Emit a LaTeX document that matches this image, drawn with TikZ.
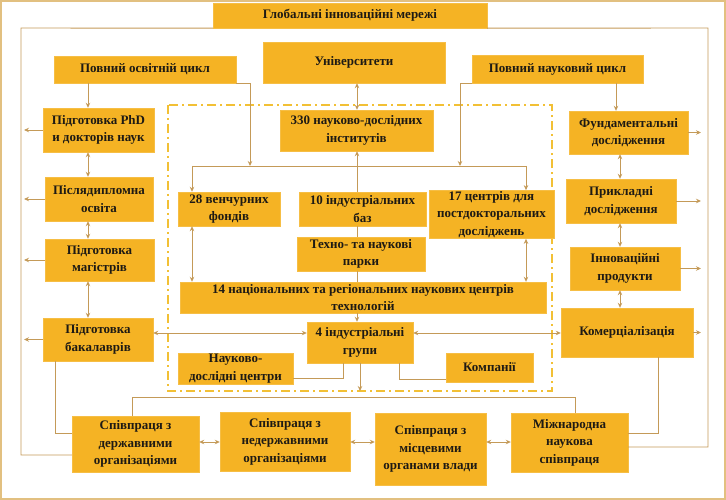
\documentclass[tikz,border=0pt]{standalone}
\usepackage{fontspec}
\setmainfont{Liberation Serif}
\usetikzlibrary{arrows.meta}
\definecolor{boxfill}{HTML}{F5B324}
\definecolor{lncol}{HTML}{C49A58}
\definecolor{dashcol}{HTML}{F2C035}
\definecolor{outercol}{HTML}{E2C080}
\definecolor{txt}{HTML}{1E1A14}
\newcommand\mybox[6]{\node[box, minimum width={(#4-#2)*1pt}, minimum height={(#5-#3)*1pt}] (#1) at ({(#2+#4)/2},{(#3+#5)/2}) {#6};}
\begin{document}
\begin{tikzpicture}[x=1pt,y=-1pt,
  box/.style={fill=boxfill, draw=boxfill!85!white, line width=0.4pt, inner sep=1pt, align=center,
    font=\fontsize{13}{17.5}\selectfont\bfseries, text=txt},
  ln/.style={draw=lncol, line width=0.9pt},
  arr/.style={ln, -{Stealth[length=5pt,width=4.5pt]}},
  dbl/.style={ln, {Stealth[length=5pt,width=4.5pt]}-{Stealth[length=5pt,width=4.5pt]}},
  dashframe/.style={draw=dashcol, line width=2pt, dash pattern=on 9pt off 4pt on 2pt off 4pt}]
\useasboundingbox (0,0) rectangle (726,500);
\draw[draw=outercol, line width=2.2pt] (1,1) rectangle (725,499);
% dashed frame
\draw[dashframe] (168,105) rectangle (552,391);
\coordinate (dashB) at (0,391);
% boxes
\mybox{glob}{213}{3}{487}{28}{Глобальні інноваційні мережі}
\mybox{edu}{54}{56}{236}{83}{Повний освітній цикл}
\mybox{univ}{263}{42}{445}{83}{Університети}
\mybox{sci}{472}{55}{643}{83}{Повний науковий цикл}
\mybox{phd}{43}{108}{154}{152}{Підготовка PhD\\и докторів наук}
\mybox{inst}{280}{110}{433}{151}{330 науково-дослідних\\інститутів}
\mybox{fund}{569}{111}{688}{154}{Фундаментальні\\дослідження}
\mybox{pg}{45}{177}{153}{221}{Післядипломна\\освіта}
\mybox{vent}{178}{192}{280}{226}{28 венчурних\\фондів}
\mybox{bases}{299}{192}{426}{226}{10 індустріальних\\баз}
\mybox{post}{429}{192}{554}{237}{17 центрів для\\постдокторальних\\досліджень}
\mybox{appl}{566}{179}{676}{223}{Прикладні\\дослідження}
\mybox{techno}{297}{237}{425}{271}{Техно- та наукові\\парки}
\mybox{mag}{45}{239}{154}{281}{Підготовка\\магістрів}
\mybox{innov}{570}{247}{680}{290}{Інноваційні\\продукти}
\mybox{nat}{180}{282}{546}{313}{14 національних та регіональних наукових центрів\\технологій}
\mybox{bach}{43}{318}{153}{361}{Підготовка\\бакалаврів}
\mybox{grp}{307}{322}{413}{363}{4 індустріальні\\групи}
\mybox{comm}{561}{308}{693}{357}{Комерціалізація}
\mybox{rdc}{178}{354}{293}{383}{Науково-\\дослідні центри}
\mybox{comp}{446}{353}{533}{382}{Компанії}
\mybox{coop1}{72}{416}{199}{472}{Співпраця з\\державними\\організаціями}
\mybox{coop2}{220}{412}{350}{471}{Співпраця з\\недержавними\\організаціями}
\mybox{coop3}{375}{413}{486}{485}{Співпраця з\\місцевими\\органами влади}
\mybox{intl}{511}{413}{628}{472}{Міжнародна\\наукова\\співпраця}
% outer network frame
\coordinate (fTL) at (21,28);
\coordinate (fBL) at (21,455);
\coordinate (fTR) at (708,28);
\coordinate (fBR) at (708,447);
\draw[ln] (glob.south west) -- (fTL) -- (fBL) -- (fBL -| coop1.west);
\draw[ln] (glob.south east) -- (fTR) -- (fBR) -- (fBR -| intl.east);
% side arrows
\coordinate (lxa) at (24,0);
\coordinate (rxa) at (701,0);
\foreach \n in {phd,pg,mag,bach} \draw[arr] (\n.west) -- (\n.west -| lxa);
\foreach \n in {fund,appl,innov,comm} \draw[arr] (\n.east) -- (\n.east -| rxa);
% left chain
\coordinate (lc) at (88,0);
\draw[arr] (lc |- edu.south) -- (lc |- phd.north);
\draw[dbl] (lc |- phd.south) -- (lc |- pg.north);
\draw[dbl] (lc |- pg.south) -- (lc |- mag.north);
\draw[dbl] (lc |- mag.south) -- (lc |- bach.north);
% right chain
\coordinate (rc0) at (616,0);
\coordinate (rc) at (620,0);
\draw[arr] (rc0 |- sci.south) -- (rc0 |- fund.north);
\draw[dbl] (rc |- fund.south) -- (rc |- appl.north);
\draw[dbl] (rc |- appl.south) -- (rc |- innov.north);
\draw[dbl] (rc |- innov.south) -- (rc |- comm.north);
% top feeds into the bus
\coordinate (h1) at (250,166);
\coordinate (h2) at (460,166);
\draw[arr] (edu.south east) -| (h1);
\draw[arr] (sci.south west) -| (h2);
\coordinate (busL) at (192,166);
\coordinate (busR) at (526,166);
\draw[ln] (busL) -- (busR);
\draw[arr] (busL) -- (busL |- vent.north);
\draw[arr] (busR) -- (busR |- post.north);
% central vertical chain
\coordinate (vx) at (357,0);
\draw[dbl] (vx |- univ.south) -- (vx |- inst.north);
\draw[arr] (vx |- bases.north) -- (vx |- inst.south);
\draw[ln] (vx |- bases.south) -- (vx |- techno.north);
\draw[ln] (vx |- techno.south) -- (vx |- nat.north);
\draw[arr] (vx |- nat.south) -- (vx |- grp.north);
\draw[dbl] (busL |- vent.south) -- (busL |- nat.north);
\draw[dbl] (busR |- post.south) -- (busR |- nat.north);
% horizontals through groups
\coordinate (ya) at (0,333);
\draw[dbl] (bach.east |- ya) -- (grp.west |- ya);
\draw[dbl] (grp.east |- ya) -- (comm.west |- ya);
\coordinate (k1) at (343,378);
\coordinate (k2) at (399,379);
\draw[ln] (k1 -| rdc.east) -- (k1) -- (k1 |- grp.south);
\draw[ln] (k2 -| comp.west) -- (k2) -- (k2 |- grp.south);
\draw[arr] (grp.south) -- (grp.south |- dashB);
% bottom links
\coordinate (b1) at (55,433);
\coordinate (b2) at (658,433);
\draw[ln] (b1 |- bach.south) -- (b1) -- (b1 -| coop1.west);
\draw[ln] (b2 |- comm.south) -- (b2) -- (b2 -| intl.east);
\coordinate (t1) at (132,397);
\coordinate (t2) at (575,397);
\draw[ln] (t1 |- coop1.north) -- (t1) -- (t2) -- (t2 |- intl.north);
\coordinate (yb) at (0,442);
\draw[dbl] (coop1.east |- yb) -- (coop2.west |- yb);
\draw[dbl] (coop2.east |- yb) -- (coop3.west |- yb);
\draw[dbl] (coop3.east |- yb) -- (intl.west |- yb);
\end{tikzpicture}
\end{document}
